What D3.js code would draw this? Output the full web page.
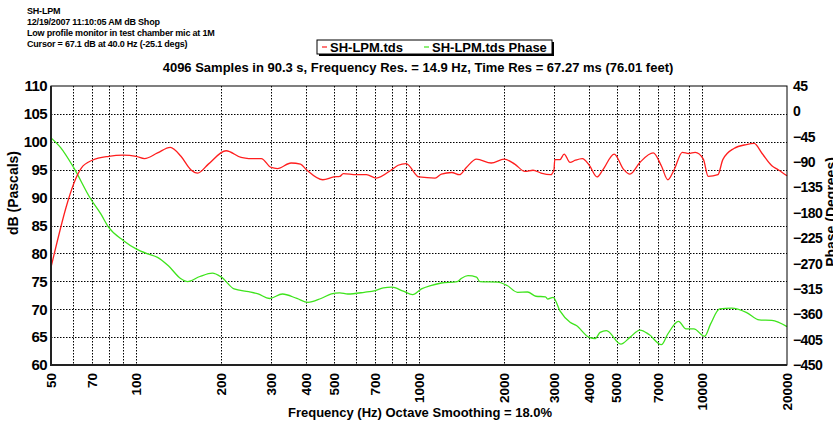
<!DOCTYPE html>
<html lang="en">
<head>
<meta charset="UTF-8">
<title>SH-LPM</title>
<script src="https://cdn.jsdelivr.net/npm/d3@7"></script>
<style>
  body { margin: 0; padding: 0; overflow: hidden; background: #fff; }
  svg { display: block; font-family: "Liberation Sans", Arial, sans-serif; font-weight: bold; }
</style>
</head>
<body>
<svg id="chart" width="833" height="426"></svg>
<script>
// header lines
var headerLines = ["SH-LPM", "12/19/2007 11:10:05 AM dB Shop",
  "Low profile monitor in test chamber mic at 1M", "Cursor = 67.1 dB at 40.0 Hz (-25.1 degs)"];
var title = "4096 Samples in 90.3 s, Frequency Res. = 14.9 Hz, Time Res = 67.27 ms (76.01 feet)";
var seriesNames = ["SH-LPM.tds", "SH-LPM.tds Phase"];

// tick values
var dbTicks = [110, 105, 100, 95, 90, 85, 80, 75, 70, 65, 60];
var phaseTicks = [45, 0, -45, -90, -135, -180, -225, -270, -315, -360, -405, -450];
var freqLabels = [50, 70, 100, 200, 300, 400, 500, 700, 1000, 2000, 3000, 4000, 5000, 7000, 10000, 20000];
var freqGrid = [60, 70, 80, 90, 100, 200, 300, 400, 500, 600, 700, 800, 900, 1000,
  2000, 3000, 4000, 5000, 6000, 7000, 8000, 9000, 10000];

// magnitude (red)
var magFreq = [50, 64, 70, 80, 90, 100, 107, 119, 132, 144, 156, 165, 180, 208, 235, 250, 277, 300, 316, 353,
  381, 400, 457, 500, 525, 540, 600, 652, 706, 800, 844, 900, 1000, 1140, 1200, 1305, 1390, 1470, 1597, 1800,
  2000, 2180, 2370, 2530, 2700, 2920, 3000, 3020, 3150, 3260, 3420, 3570, 3780, 4000, 4260, 4470, 4900, 5280,
  5570, 6040, 6730, 7190, 7580, 7980, 8530, 8990, 9470, 10120, 10530, 11400, 11860, 12980, 14350, 15300,
  16330, 17680, 18620, 20000];
var magDb = [77.5, 95.3, 96.7, 97.4, 97.6, 97.4, 97.0, 98.0, 99.0, 97.4, 95.0, 94.4, 96.0, 98.4, 97.2, 97.0, 97.0, 95.4, 95.2, 96.2,
  96.0, 95.0, 93.2, 93.7, 93.8, 94.3, 94.1, 94.1, 93.5, 95.0, 95.8, 96.1, 93.7, 93.5, 94.2, 94.5, 94.1, 95.4, 96.9, 96.2,
  96.9, 96.0, 94.7, 94.9, 94.4, 94.1, 95.0, 96.8, 96.8, 97.8, 96.3, 96.7, 97.0, 95.8, 93.7, 95.0, 97.8, 95.1,
  94.2, 96.3, 98.0, 95.7, 93.2, 95.0, 98.1, 97.9, 98.1, 96.9, 93.8, 94.1, 96.8, 98.8, 99.5, 99.7,
  97.9, 95.7, 95.0, 93.9];

// phase (green)
var phFreq = [50, 54, 60, 69, 75, 80, 90, 100, 110, 119, 130, 144, 152, 168, 186, 200, 222, 250, 270, 296,
  329, 370, 405, 450, 490, 525, 560, 640, 700, 748, 800, 880, 950, 1020, 1100, 1200, 1365, 1415, 1490, 1597,
  1640, 1900, 2050, 2230, 2420, 2590, 2800, 2850, 2980, 3150, 3420, 3600, 4000, 4200, 4370, 4600, 5170, 5570,
  6040, 6510, 7190, 7580, 8270, 8790, 9370, 10230, 10740, 11560, 12740, 14350, 15950, 17680, 20000];
var phDeg = [-47, -64, -99, -155, -182, -206, -229, -244, -253, -259, -274, -297, -302, -293, -287, -294, -315, -320, -324, -332,
  -324, -332, -339, -332, -324, -322, -324, -321, -318, -313, -312, -319, -325, -315, -309, -304.5, -302, -296, -291.5, -294,
  -302, -303, -309, -321, -320.5, -328, -329, -333, -330, -354, -374, -380, -401, -403, -392, -389, -413, -401,
  -388, -396, -414, -395, -372.5, -386, -386, -399, -377, -350.6, -349, -356.5, -370, -371, -382];

var svg = d3.select("#chart");
var pLeft = 51, pRight = 787, pTop = 86, pBottom = 365;

var x = d3.scaleLog().domain([50, 20000]).range([pLeft, pRight]);
var yDb = d3.scaleLinear().domain([60, 110]).range([pBottom, pTop]);
var yPh = d3.scaleLinear().domain([-450, 45]).range([pBottom, pTop]);

// header text
svg.append("g").selectAll("text").data(headerLines).enter().append("text")
  .attr("x", 27).attr("y", (d, i) => 14 + i * 11)
  .attr("font-size", 9).attr("letter-spacing", -0.2)
  .text(d => d);

// legend
var lg = svg.append("g");
lg.append("rect").attr("x", 319).attr("y", 42).attr("width", 235).attr("height", 14).attr("fill", "#000");
lg.append("rect").attr("x", 317).attr("y", 40).attr("width", 235).attr("height", 14)
  .attr("fill", "#fff").attr("stroke", "#000").attr("stroke-width", 1);
var legendItems = [{ x: 322, c: "#ff1e1e" }, { x: 424, c: "#3ee41c" }];
legendItems.forEach((it, i) => {
  lg.append("line").attr("x1", it.x).attr("x2", it.x + 5).attr("y1", 47).attr("y2", 47)
    .attr("stroke", it.c).attr("stroke-width", 1.2);
  lg.append("text").attr("x", it.x + 8).attr("y", 52).attr("font-size", 13).text(seriesNames[i]);
});

// title
svg.append("text").attr("x", 418).attr("y", 72).attr("text-anchor", "middle")
  .attr("font-size", 13).text(title);

// grid
var grid = svg.append("g").attr("stroke", "#000").attr("stroke-width", 1).attr("stroke-dasharray", "1.5,1.5");
grid.selectAll("line.h").data(dbTicks.slice(1, -1)).enter().append("line")
  .attr("x1", pLeft).attr("x2", pRight)
  .attr("y1", d => Math.round(yDb(d)) + 0.5).attr("y2", d => Math.round(yDb(d)) + 0.5);
grid.selectAll("line.v").data(freqGrid).enter().append("line")
  .attr("y1", pTop).attr("y2", pBottom)
  .attr("x1", d => Math.round(x(d)) + 0.5).attr("x2", d => Math.round(x(d)) + 0.5);

// curves
var magLine = d3.line().x(d => x(d[0])).y(d => yDb(d[1])).curve(d3.curveMonotoneX);
var phLine = d3.line().x(d => x(d[0])).y(d => yPh(d[1])).curve(d3.curveMonotoneX);
svg.append("path").datum(phFreq.map((f, i) => [f, phDeg[i]]))
  .attr("d", phLine).attr("fill", "none").attr("stroke", "#3ee41c").attr("stroke-width", 1.3);
svg.append("path").datum(magFreq.map((f, i) => [f, magDb[i]]))
  .attr("d", magLine).attr("fill", "none").attr("stroke", "#ff1e1e").attr("stroke-width", 1.3);

// frame
svg.append("rect").attr("x", pLeft).attr("y", pTop).attr("width", pRight - pLeft).attr("height", pBottom - pTop)
  .attr("fill", "none").attr("stroke", "#000").attr("stroke-width", 1);
svg.append("path").attr("d", `M${pLeft},${pTop}V${pBottom}H${pRight}`)
  .attr("fill", "none").attr("stroke", "#222").attr("stroke-width", 2);

// left axis
var axL = svg.append("g").attr("transform", `translate(${pLeft},0)`)
  .call(d3.axisLeft(yDb).tickValues(dbTicks).tickSize(0).tickPadding(4));
axL.select(".domain").remove();
axL.selectAll("text").attr("font-size", 15).attr("font-family", "Liberation Sans, Arial").attr("font-weight", "bold")
  .attr("fill", "#000").attr("letter-spacing", -0.6);

// right axis
var axR = svg.append("g").attr("transform", `translate(${pRight},0)`)
  .call(d3.axisRight(yPh).tickValues(phaseTicks).tickSize(0).tickPadding(6));
axR.select(".domain").remove();
axR.selectAll("text").attr("font-size", 14).attr("font-family", "Liberation Sans, Arial").attr("font-weight", "bold")
  .attr("fill", "#000").attr("letter-spacing", -0.6);

// bottom axis labels (rotated)
svg.append("g").selectAll("text").data(freqLabels).enter().append("text")
  .attr("transform", d => `translate(${x(d)},373) rotate(-90)`)
  .attr("text-anchor", "end").attr("dy", "0.35em")
  .attr("font-size", 13.5).text(d => d);

// axis titles
svg.append("text").attr("transform", "translate(18,193) rotate(-90)").attr("text-anchor", "middle")
  .attr("font-size", 14).text("dB (Pascals)");
svg.append("text").attr("transform", "translate(836,212) rotate(-90)").attr("text-anchor", "middle")
  .attr("font-size", 14).text("Phase (Degrees)");
svg.append("text").attr("x", 420).attr("y", 417).attr("text-anchor", "middle")
  .attr("font-size", 13).text("Frequency (Hz) Octave Smoothing = 18.0%");
</script>
</body>
</html>
